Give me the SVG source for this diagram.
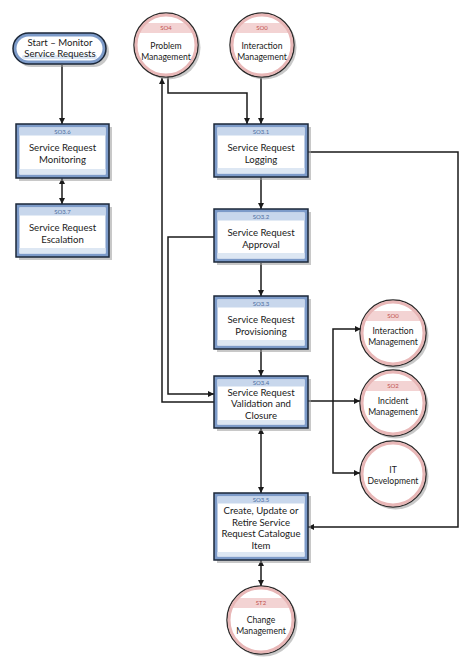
<svg xmlns="http://www.w3.org/2000/svg" width="474" height="661" viewBox="0 0 474 661">
<defs>
<style>
.sh{fill:#9a9a9a;opacity:.55}
.frame{fill:#7d9bc9;stroke:#1b2738;stroke-width:1.5}
.inner{fill:#ffffff}
.hdr{fill:#c8d7ec}
.btm{fill:#dde7f3}
.lbl{font-family:Lato,"Liberation Sans",sans-serif;font-size:6px;fill:#4d6ea0;text-anchor:middle}
.t{font-family:Lato,"Liberation Sans",sans-serif;font-size:9.6px;fill:#1a1a1a;text-anchor:middle}
.ct{font-family:Lato,"Liberation Sans",sans-serif;font-size:8.6px;fill:#1a1a1a;text-anchor:middle}
.clbl{font-family:Lato,"Liberation Sans",sans-serif;font-size:6px;fill:#c0504d;text-anchor:middle}
.co{fill:#ffffff;stroke:#2a2a2a;stroke-width:1.5}
.ring{fill:none;stroke:#e8b7b7;stroke-width:3}
.cband{fill:#f3d3d3}
.ln{fill:none;stroke:#1a1a1a;stroke-width:1.5}
</style>
<marker id="ah" viewBox="0 0 10 10" refX="10" refY="5" markerWidth="6" markerHeight="6" orient="auto-start-reverse" markerUnits="userSpaceOnUse">
<path d="M0,0 L10,5 L0,10 z" fill="#1a1a1a"/>
</marker>
<clipPath id="cc"><circle cx="0" cy="0" r="31"/></clipPath>
</defs>
<rect width="474" height="661" fill="#ffffff"/>

<g id="connectors">
<path class="ln" d="M62,65 V124" marker-end="url(#ah)"/>
<path class="ln" d="M62,178 V204" marker-start="url(#ah)" marker-end="url(#ah)"/>
<path class="ln" d="M168,77 V93 H247 V124" marker-end="url(#ah)"/>
<path class="ln" d="M261,78 V124" marker-end="url(#ah)"/>
<path class="ln" d="M261,177 V209" marker-end="url(#ah)"/>
<path class="ln" d="M308,152 H458 V527 H308" marker-end="url(#ah)"/>
<path class="ln" d="M261,263 V296" marker-end="url(#ah)"/>
<path class="ln" d="M214,237 H168 V394 H214" marker-end="url(#ah)"/>
<path class="ln" d="M214,402 H162 V78" marker-end="url(#ah)"/>
<path class="ln" d="M261,349 V376" marker-end="url(#ah)"/>
<path class="ln" d="M308,401 H360" marker-end="url(#ah)"/>
<path class="ln" d="M333,401 V329 H361" marker-end="url(#ah)"/>
<path class="ln" d="M333,401 V473 H360" marker-end="url(#ah)"/>
<path class="ln" d="M261,428 V493" marker-start="url(#ah)" marker-end="url(#ah)"/>
<path class="ln" d="M261,560 V586" marker-start="url(#ah)" marker-end="url(#ah)"/>
</g>

<g id="start">
<rect class="sh" x="16" y="36" width="93" height="31" rx="15.5"/>
<rect class="frame" x="13" y="33" width="93" height="31" rx="15.5"/>
<rect class="inner" x="16.5" y="36.5" width="86" height="24" rx="12"/>
<rect class="btm" x="22" y="55" width="75" height="4" rx="2"/>
<text class="t" x="60" y="46">Start – Monitor</text>
<text class="t" x="60" y="57">Service Requests</text>
</g>

<g id="so36">
<rect class="sh" x="19" y="127" width="93" height="54"/>
<rect class="frame" x="16" y="124" width="93" height="54"/>
<rect class="inner" x="19.5" y="127.5" width="86" height="47"/>
<rect class="hdr" x="19.5" y="127.5" width="86" height="8"/>
<rect class="btm" x="19.5" y="169" width="86" height="5.5"/>
<text class="lbl" x="62.5" y="134">SO3.6</text>
<text class="t" x="62.5" y="151">Service Request</text>
<text class="t" x="62.5" y="163">Monitoring</text>
</g>

<g id="so37">
<rect class="sh" x="19" y="207" width="93" height="53"/>
<rect class="frame" x="16" y="204" width="93" height="53"/>
<rect class="inner" x="19.5" y="207.5" width="86" height="46"/>
<rect class="hdr" x="19.5" y="207.5" width="86" height="8"/>
<rect class="btm" x="19.5" y="248" width="86" height="5.5"/>
<text class="lbl" x="62.5" y="214">SO3.7</text>
<text class="t" x="62.5" y="231">Service Request</text>
<text class="t" x="62.5" y="243">Escalation</text>
</g>

<g id="so31">
<rect class="sh" x="217" y="127" width="94" height="53"/>
<rect class="frame" x="214" y="124" width="94" height="53"/>
<rect class="inner" x="217.5" y="127.5" width="87" height="46"/>
<rect class="hdr" x="217.5" y="127.5" width="87" height="8"/>
<rect class="btm" x="217.5" y="168" width="87" height="5.5"/>
<text class="lbl" x="261" y="134">SO3.1</text>
<text class="t" x="261" y="151">Service Request</text>
<text class="t" x="261" y="163">Logging</text>
</g>

<g id="so32">
<rect class="sh" x="217" y="212" width="94" height="53"/>
<rect class="frame" x="214" y="209" width="94" height="53"/>
<rect class="inner" x="217.5" y="212.5" width="87" height="46"/>
<rect class="hdr" x="217.5" y="212.5" width="87" height="8"/>
<rect class="btm" x="217.5" y="253" width="87" height="5.5"/>
<text class="lbl" x="261" y="219">SO3.2</text>
<text class="t" x="261" y="236">Service Request</text>
<text class="t" x="261" y="248">Approval</text>
</g>

<g id="so33">
<rect class="sh" x="217" y="299" width="94" height="53"/>
<rect class="frame" x="214" y="296" width="94" height="53"/>
<rect class="inner" x="217.5" y="299.5" width="87" height="46"/>
<rect class="hdr" x="217.5" y="299.5" width="87" height="8"/>
<rect class="btm" x="217.5" y="340" width="87" height="5.5"/>
<text class="lbl" x="261" y="306">SO3.3</text>
<text class="t" x="261" y="323">Service Request</text>
<text class="t" x="261" y="335">Provisioning</text>
</g>

<g id="so34">
<rect class="sh" x="217" y="379" width="94" height="52"/>
<rect class="frame" x="214" y="376" width="94" height="52"/>
<rect class="inner" x="217.5" y="379.5" width="87" height="45"/>
<rect class="hdr" x="217.5" y="379.5" width="87" height="7"/>
<rect class="btm" x="217.5" y="420" width="87" height="4.5"/>
<text class="lbl" x="261" y="385">SO3.4</text>
<text class="t" x="261" y="396">Service Request</text>
<text class="t" x="261" y="407">Validation and</text>
<text class="t" x="261" y="419">Closure</text>
</g>

<g id="so35">
<rect class="sh" x="217" y="496" width="94" height="67"/>
<rect class="frame" x="214" y="493" width="94" height="67"/>
<rect class="inner" x="217.5" y="496.5" width="87" height="60"/>
<rect class="hdr" x="217.5" y="496.5" width="87" height="7"/>
<rect class="btm" x="217.5" y="552" width="87" height="4.5"/>
<text class="lbl" x="261" y="502">SO3.5</text>
<text class="t" x="261" y="514">Create, Update or</text>
<text class="t" x="261" y="526">Retire Service</text>
<text class="t" x="261" y="537">Request Catalogue</text>
<text class="t" x="261" y="549">Item</text>
</g>

<g id="so4-problem" transform="translate(166,45)">
<circle class="sh" cx="2.5" cy="2.5" r="32"/>
<circle class="co" r="32"/>
<rect class="cband" x="-32" y="-22" width="64" height="10" clip-path="url(#cc)"/>
<circle class="ring" r="30"/>
<text class="clbl" y="-15">SO4</text>
<text class="ct" y="4">Problem</text>
<text class="ct" y="15">Management</text>
</g>

<g id="so0-interaction-top" transform="translate(262,45)">
<circle class="sh" cx="2.5" cy="2.5" r="32"/>
<circle class="co" r="32"/>
<rect class="cband" x="-32" y="-22" width="64" height="10" clip-path="url(#cc)"/>
<circle class="ring" r="30"/>
<text class="clbl" y="-15">SO0</text>
<text class="ct" y="4">Interaction</text>
<text class="ct" y="15">Management</text>
</g>

<g id="so0-interaction-right" transform="translate(393,333)">
<circle class="sh" cx="2.5" cy="2.5" r="33"/>
<circle class="co" r="33"/>
<rect class="cband" x="-32" y="-22" width="64" height="10" clip-path="url(#cc)"/>
<circle class="ring" r="31"/>
<text class="clbl" y="-15">SO0</text>
<text class="ct" y="1">Interaction</text>
<text class="ct" y="12">Management</text>
</g>

<g id="so2-incident" transform="translate(393,403)">
<circle class="sh" cx="2.5" cy="2.5" r="33"/>
<circle class="co" r="33"/>
<rect class="cband" x="-32" y="-22" width="64" height="10" clip-path="url(#cc)"/>
<circle class="ring" r="31"/>
<text class="clbl" y="-15">SO2</text>
<text class="ct" y="1">Incident</text>
<text class="ct" y="12">Management</text>
</g>

<g id="it-development" transform="translate(393,474)">
<circle class="sh" cx="2.5" cy="2.5" r="33"/>
<circle class="co" r="33"/>
<circle class="ring" r="31"/>
<text class="ct" y="-1">IT</text>
<text class="ct" y="10">Development</text>
</g>

<g id="st2-change" transform="translate(261,620)">
<circle class="sh" cx="2.5" cy="2.5" r="34"/>
<circle class="co" r="34"/>
<rect class="cband" x="-32" y="-22" width="64" height="10" clip-path="url(#cc)"/>
<circle class="ring" r="32"/>
<text class="clbl" y="-15">ST2</text>
<text class="ct" y="3">Change</text>
<text class="ct" y="14">Management</text>
</g>
</svg>
